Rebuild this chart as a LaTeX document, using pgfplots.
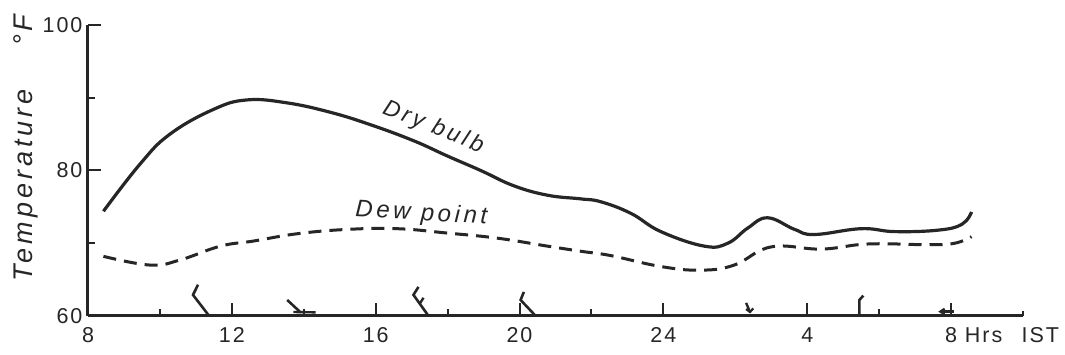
\documentclass[border=0pt]{standalone}
\usepackage{fontspec}
\setmainfont{Liberation Sans}
\newfontfamily\spaced[LetterSpace=15]{Liberation Sans}
\newfontfamily\spacedb[LetterSpace=9]{Liberation Sans}
\usepackage{pgfplots}
\pgfplotsset{compat=1.18}
\definecolor{ink}{HTML}{262626}
\begin{document}
\begin{tikzpicture}
\begin{axis}[name=ax, scale only axis, width=935pt, height=291pt,
  xmin=8, xmax=34, ymin=60, ymax=100, clip=false,
  axis lines=left, axis line style={ink, line width=3pt, -},
  xtick={8,12,16,20,24,28,32},
  xticklabels={8,12,16,20,24,4,{8\rlap{\ Hrs\hspace{0.9em}IST}}},
  minor xtick={10,14,18,22,30},
  ytick={60,80,100}, yticklabels={60,80,100}, minor ytick={70,90},
  tick align=inside, major tick length=13pt, minor tick length=7pt,
  tick style={ink, line width=2pt},
  every tick label/.append style={font=\fontsize{21.5}{23}\spacedb, text=ink},
  xticklabel style={yshift=-8pt},
  yticklabel style={xshift=-2pt},
  ylabel={Temperature\hspace{1.6em}°F},
  ylabel style={at={(axis description cs:-0.066,0.577)}, anchor=center,
    font=\fontsize{27}{29}\spaced\itshape, text=ink},
]
% Dry bulb
\addplot[ink, line width=3.2pt, smooth, tension=0.7] coordinates {
(8.43,74.4)(9.45,80.9)(10.28,85.0)(11.49,88.4)(12.42,89.7)(13.53,89.3)
(14.74,88.0)(15.85,86.3)(17.05,84.1)(17.99,82.0)(18.92,80.0)(19.84,77.9)
(20.78,76.6)(21.7,76.1)(22.26,75.7)(23.1,74.1)(23.93,71.6)(25.14,69.6)
(25.79,70.0)(26.35,72.1)(26.9,73.5)(27.65,71.9)(28.2,71.2)(29.5,72.0)
(30.43,71.6)(31.64,71.8)(32.3,72.6)(32.57,74.3)};
% Dew point
\addplot[ink, line width=3pt, smooth, tension=0.7, dash pattern=on 13pt off 8pt] coordinates {
(8.43,68.2)(9.73,67.0)(10.56,67.7)(11.68,69.6)(12.6,70.3)(13.81,71.3)
(15.2,71.9)(16.6,72.0)(17.99,71.4)(19.38,70.7)(20.78,69.6)(21.7,68.9)
(22.54,68.3)(23.93,66.8)(25.04,66.3)(25.97,67.0)(27.0,69.5)(28.4,69.2)
(29.7,69.9)(31.38,69.8)(32.1,70.0)(32.57,70.9)};
% wind barbs
\addplot[ink, line width=2.6pt, sharp plot] coordinates {(11.06,64.3)(10.92,62.9)(11.37,60)};
\addplot[ink, line width=2.6pt, sharp plot] coordinates {(13.54,62.2)(13.9,60.55)};
\addplot[ink, line width=2.4pt, sharp plot] coordinates {(13.71,60.55)(14.33,60.5)};
\addplot[ink, line width=2.6pt, sharp plot] coordinates {(17.19,64.0)(17.05,62.9)(17.47,60)};
\addplot[ink, line width=2.4pt, sharp plot] coordinates {(17.22,61.66)(17.33,62.5)};
\addplot[ink, line width=2.6pt, sharp plot] coordinates {(20.12,63.3)(20.03,62.2)(20.45,60)};
\addplot[ink, line width=2.4pt, sharp plot] coordinates {(26.3,61.8)(26.41,60.55)};
\addplot[ink, line width=2.2pt, sharp plot] coordinates {(26.3,60.95)(26.41,60.55)(26.5,61.05)};
\addplot[ink, line width=2.6pt, sharp plot] coordinates {(29.45,60)(29.45,62.2)(29.56,62.8)};
\addplot[ink, line width=2.4pt, sharp plot] coordinates {(32.07,60.6)(31.7,60.6)};
\addplot[ink, line width=2.2pt, sharp plot] coordinates {(31.82,61.0)(31.7,60.6)(31.82,60.25)};
\addplot[ink, line width=2.6pt, sharp plot] coordinates {(34,60)(34,60.7)};
% labels
\node[rotate=-22, text=ink, font=\fontsize{23}{25}\spaced\itshape] at (axis cs:17.6,85.9) {Dry bulb};
\node[rotate=-3, text=ink, font=\fontsize{24}{26}\spaced\itshape] at (axis cs:17.27,74.0) {Dew point};
\end{axis}
\pgfresetboundingbox
\useasboundingbox ([shift={(-88pt,-39pt)}]ax.south west) rectangle ([shift={(42pt,25pt)}]ax.north east);
\end{tikzpicture}
\end{document}
